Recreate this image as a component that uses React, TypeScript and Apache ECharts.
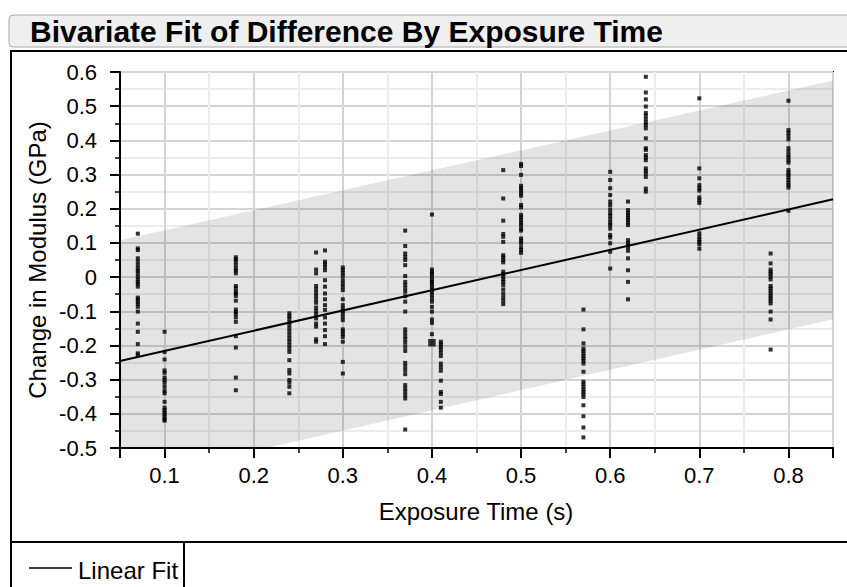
import React, { useEffect, useRef } from "react";
import * as echarts from "echarts";

// Exposure times (s) of each vertical cluster of measurements
const exposureTimes = [0.07, 0.1, 0.18, 0.24, 0.27, 0.28, 0.3, 0.37, 0.4, 0.41, 0.48, 0.5, 0.57, 0.6, 0.62, 0.64, 0.7, 0.78, 0.8];

// Change in modulus (GPa) per exposure time
const y007 = [0.127, 0.084, 0.079, 0.055, 0.045, 0.035, 0.025, 0.019, 0.011, 0.001, -0.007, -0.014, -0.02, -0.028, -0.06, -0.065, -0.072, -0.079, -0.087, -0.101, -0.136, -0.16, -0.196, -0.223, -0.228];
const y010 = [-0.16, -0.219, -0.241, -0.273, -0.28, -0.294, -0.301, -0.309, -0.321, -0.333, -0.34, -0.365, -0.382, -0.389, -0.396, -0.402, -0.409, -0.416, -0.42];
const y018 = [0.058, 0.052, 0.045, 0.035, 0.025, 0.019, 0.011, -0.026, -0.033, -0.043, -0.048, -0.055, -0.069, -0.095, -0.102, -0.108, -0.118, -0.131, -0.173, -0.206, -0.294, -0.331];
const y024 = [-0.106, -0.114, -0.121, -0.131, -0.14, -0.15, -0.16, -0.17, -0.18, -0.189, -0.199, -0.209, -0.219, -0.243, -0.272, -0.282, -0.301, -0.309, -0.321, -0.34];
const y027 = [0.072, 0.022, 0.011, -0.026, -0.036, -0.046, -0.055, -0.065, -0.075, -0.089, -0.099, -0.108, -0.121, -0.136, -0.145, -0.182, -0.189];
const y028 = [0.078, 0.045, 0.038, 0.03, 0.02, -0.009, -0.028, -0.048, -0.065, -0.082, -0.096, -0.118, -0.136, -0.155, -0.173, -0.196];
const y030 = [0.028, 0.02, 0.012, 0.003, -0.009, -0.019, -0.028, -0.038, -0.065, -0.082, -0.092, -0.099, -0.106, -0.116, -0.126, -0.153, -0.16, -0.167, -0.175, -0.189, -0.248, -0.282];
const y037 = [0.136, 0.091, 0.069, 0.059, 0.05, 0.035, 0.003, -0.014, -0.023, -0.033, -0.043, -0.056, -0.072, -0.101, -0.153, -0.163, -0.173, -0.182, -0.192, -0.204, -0.216, -0.251, -0.261, -0.272, -0.284, -0.316, -0.326, -0.335, -0.345, -0.355, -0.446];
const y040 = [0.183, 0.022, 0.015, 0.009, 0.001, -0.007, -0.014, -0.02, -0.028, -0.036, -0.044, -0.052, -0.062, -0.072, -0.087, -0.101, -0.124, -0.134, -0.167];
const y041 = [-0.189, -0.196, -0.204, -0.212, -0.221, -0.231, -0.253, -0.263, -0.274, -0.303, -0.336, -0.342, -0.365, -0.382];
const y048 = [0.313, 0.23, 0.165, 0.126, 0.118, 0.103, 0.064, 0.058, 0.05, 0.043, 0.016, 0.009, 0.001, -0.007, -0.014, -0.023, -0.036, -0.048, -0.059, -0.069, -0.079];
const y050 = [0.331, 0.325, 0.299, 0.267, 0.26, 0.253, 0.245, 0.238, 0.211, 0.204, 0.182, 0.175, 0.167, 0.159, 0.152, 0.142, 0.136, 0.113, 0.106, 0.099, 0.087, 0.079, 0.071];
const y057 = [-0.095, -0.153, -0.194, -0.209, -0.216, -0.223, -0.231, -0.238, -0.245, -0.253, -0.277, -0.306, -0.313, -0.321, -0.329, -0.336, -0.343, -0.351, -0.375, -0.407, -0.44, -0.469];
const y060 = [0.308, 0.284, 0.26, 0.24, 0.221, 0.211, 0.198, 0.187, 0.179, 0.169, 0.159, 0.152, 0.142, 0.123, 0.116, 0.099, 0.074, 0.025];
const y062 = [0.221, 0.196, 0.188, 0.181, 0.174, 0.167, 0.159, 0.152, 0.108, 0.1, 0.093, 0.088, 0.077, 0.055, 0.02, -0.014, -0.065];
const y064 = [0.586, 0.54, 0.52, 0.499, 0.48, 0.472, 0.462, 0.452, 0.445, 0.435, 0.406, 0.377, 0.372, 0.357, 0.35, 0.342, 0.318, 0.311, 0.303, 0.293, 0.259, 0.25];
const y070 = [0.523, 0.318, 0.289, 0.269, 0.26, 0.253, 0.233, 0.225, 0.217, 0.128, 0.118, 0.11, 0.103, 0.096, 0.083];
const y078 = [0.069, 0.04, 0.022, 0.015, 0.009, 0.001, -0.007, -0.026, -0.033, -0.04, -0.048, -0.055, -0.062, -0.069, -0.077, -0.101, -0.124, -0.212];
const y080 = [0.516, 0.43, 0.422, 0.413, 0.403, 0.377, 0.367, 0.357, 0.35, 0.342, 0.335, 0.313, 0.305, 0.299, 0.292, 0.284, 0.276, 0.269, 0.262, 0.194];

const clusterValues = [y007, y010, y018, y024, y027, y028, y030, y037, y040, y041, y048, y050, y057, y060, y062, y064, y070, y078, y080];

// Overlapping (heavier) marker
const heavyPoint = [0.4, -0.192];

// Linear fit and individual prediction band (x, y) endpoints
const fitLine = [[0.05, -0.2455], [0.85, 0.2275]];
const bandLower = [[0.05, -0.597], [0.85, -0.1235]];
const bandUpper = [[0.05, 0.108], [0.85, 0.575]];

const FONT = '"Liberation Sans", Arial, Helvetica, sans-serif';

const points: number[][] = [];
exposureTimes.forEach((t, i) => {
  clusterValues[i].forEach((v) => points.push([t, v]));
});

// polygon of the band: upper edge left->right, lower edge right->left
const bandPolygon = [...bandUpper, ...bandLower.slice().reverse()];

const axisCommon = {
  type: "value" as const,
  axisLine: { show: true, onZero: false, lineStyle: { color: "#000", width: 2 } },
  axisTick: { show: true, length: 10, lineStyle: { color: "#000", width: 2 } },
  minorTick: { show: true, splitNumber: 2, length: 5, lineStyle: { color: "#000", width: 1.5 } },
  splitLine: { show: true, lineStyle: { color: "#d4d4d4", width: 2 } },
  minorSplitLine: { show: true, lineStyle: { color: "#ececec", width: 2 } },
};

const option: any = {
  animation: false,
  backgroundColor: "#fff",
  grid: {
    left: 120,
    top: 72,
    right: 14,
    bottom: 139,
    show: true,
    borderColor: "#000",
    borderWidth: 2,
    backgroundColor: "transparent",
  },
  xAxis: {
    ...axisCommon,
    min: 0.05,
    max: 0.85,
    splitNumber: 8,
    axisLabel: {
      fontSize: 22,
      fontFamily: FONT,
      color: "#000",
      margin: 16,
      showMinLabel: false,
      showMaxLabel: false,
      formatter: (v: number) =>
        Math.abs(v * 10 - Math.round(v * 10)) > 1e-6 ? "" : v.toFixed(1),
    },
  },
  yAxis: {
    ...axisCommon,
    min: -0.5,
    max: 0.6,
    interval: 0.1,
    axisLabel: {
      fontSize: 22,
      fontFamily: FONT,
      color: "#000",
      margin: 23,
      formatter: (v: number) => (Math.abs(v) < 1e-9 ? "0" : v.toFixed(1)),
    },
  },
  series: [
    {
      name: "Prediction band",
      type: "custom",
      clip: true,
      silent: true,
      z: 1,
      data: [0],
      renderItem: (params: any, api: any) => {
        const pts = bandPolygon.map((p) => api.coord(p));
        return {
          type: "polygon",
          shape: { points: pts },
          style: { fill: "rgba(0,0,0,0.105)", stroke: "none" },
        };
      },
    },
    {
      name: "Difference",
      type: "scatter",
      symbol: "rect",
      symbolSize: 4,
      itemStyle: { color: "#000" },
      data: points,
      z: 3,
    },
    {
      name: "Overlap",
      type: "scatter",
      symbol: "rect",
      symbolSize: 7.5,
      itemStyle: { color: "#000" },
      data: [heavyPoint],
      z: 3,
    },
    {
      name: "Linear Fit",
      type: "line",
      data: fitLine,
      symbol: "none",
      lineStyle: { color: "#000", width: 2 },
      z: 4,
    },
  ],
  graphic: [
    {
      type: "rect",
      shape: { x: 9, y: 15, width: 850, height: 32, r: 4 },
      style: { fill: "#efefef", stroke: "#a8a8a8", lineWidth: 1 },
    },
    {
      type: "text",
      x: 30,
      y: 31,
      style: {
        text: "Bivariate Fit of Difference By Exposure Time",
        font: `bold 30px ${FONT}`,
        fill: "#000",
        align: "left",
        verticalAlign: "middle",
      },
    },
    {
      type: "rect",
      shape: { x: 11, y: 51, width: 860, height: 560 },
      style: { fill: "none", stroke: "#000", lineWidth: 2 },
    },
    {
      type: "line",
      shape: { x1: 11, y1: 542, x2: 860, y2: 542 },
      style: { stroke: "#000", lineWidth: 2 },
    },
    {
      type: "line",
      shape: { x1: 184, y1: 542, x2: 184, y2: 600 },
      style: { stroke: "#000", lineWidth: 2 },
    },
    {
      type: "line",
      shape: { x1: 29, y1: 568, x2: 72, y2: 568 },
      style: { stroke: "#000", lineWidth: 1.6 },
    },
    {
      type: "text",
      x: 78,
      y: 570,
      style: {
        text: "Linear Fit",
        font: `24px ${FONT}`,
        fill: "#000",
        align: "left",
        verticalAlign: "middle",
      },
    },
    {
      type: "text",
      x: 37,
      y: 260,
      rotation: Math.PI / 2,
      style: {
        text: "Change in Modulus (GPa)",
        font: `24px ${FONT}`,
        fill: "#000",
        align: "center",
        verticalAlign: "middle",
      },
    },
    {
      type: "text",
      x: 476,
      y: 511,
      style: {
        text: "Exposure Time (s)",
        font: `24px ${FONT}`,
        fill: "#000",
        align: "center",
        verticalAlign: "middle",
      },
    },
  ],
};

export default function App() {
  const ref = useRef<HTMLDivElement>(null);
  useEffect(() => {
    if (!ref.current) return;
    const chart = echarts.init(ref.current, null, { renderer: "svg" });
    chart.setOption(option);
    return () => chart.dispose();
  }, []);
  return (
    <div
      ref={ref}
      style={{ position: "absolute", left: 0, top: 0, width: 847, height: 587, background: "#fff" }}
    />
  );
}
